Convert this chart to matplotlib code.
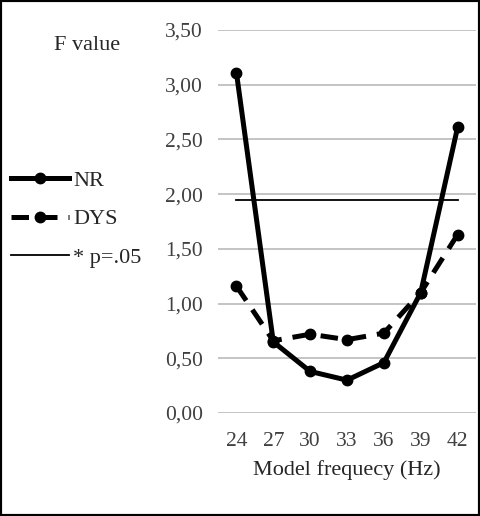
import matplotlib
matplotlib.use('Agg')
import matplotlib.pyplot as plt
from matplotlib.patches import Rectangle

plt.rcParams['font.family'] = ['Liberation Serif', 'DejaVu Serif']

freqs = ['24', '27', '30', '33', '36', '39', '42']
nr = [3.11, 0.65, 0.38, 0.30, 0.46, 1.10, 2.61]
dys = [1.16, 0.66, 0.72, 0.67, 0.73, 1.10, 1.63]
p_crit = 1.95
yticks = [0.0, 0.5, 1.0, 1.5, 2.0, 2.5, 3.0, 3.5]

fig = plt.figure(figsize=(4.8, 5.16), dpi=100)
ax = fig.add_axes([218 / 480, 1 - 413 / 516, 258 / 480, 383 / 516])

x = list(range(len(freqs)))
ax.plot(x, [p_crit] * len(x), color='black', linewidth=1.3, label='* p=.05', zorder=2)
ax.plot(x, nr, color='black', linewidth=3.6, marker='o', markersize=7.5,
        label='NR', zorder=4)
ax.plot(x, dys, color='black', linewidth=3.6, marker='o', markersize=7.5,
        linestyle=(0, (3.5, 2.2)), label='DYS', zorder=3)

ax.set_xlim(-0.5, 6.5)
ax.set_ylim(0, 3.5)
ax.set_xticks(x)
ax.set_xticklabels(freqs)
ax.set_yticks(yticks)
ax.yaxis.set_major_formatter(matplotlib.ticker.FuncFormatter(
    lambda v, pos: ('%.2f' % v).replace('.', ',')))
ax.tick_params(length=0, labelsize=15.5, colors='#404040')
ax.tick_params(axis='x', pad=14)
ax.tick_params(axis='y', pad=11)
for s in ax.spines.values():
    s.set_visible(False)
ax.grid(axis='y', color='#bfbfbf', linewidth=1.3)
ax.set_axisbelow(True)
ax.set_xlabel('Model frequecy (Hz)', fontsize=16, color='#262626', labelpad=6)

fig.text(87 / 480, 1 - 45 / 516, 'F value', fontsize=16, color='#262626',
         ha='center', va='center')

h, lab = ax.get_legend_handles_labels()
order = [1, 2, 0]
fig.legend([h[i] for i in order], [lab[i] for i in order],
           loc='upper left', bbox_to_anchor=(0.0, 1 - 159 / 516),
           frameon=False, fontsize=16, handlelength=2.6, labelspacing=0.82,
           handletextpad=0.2, borderaxespad=0.1, borderpad=0.4,
           labelcolor='#262626')

fig.patches.append(Rectangle((0, 0), 1, 1, transform=fig.transFigure,
                             fill=False, edgecolor='black', linewidth=3))

fig.savefig('out.png', dpi=100)
